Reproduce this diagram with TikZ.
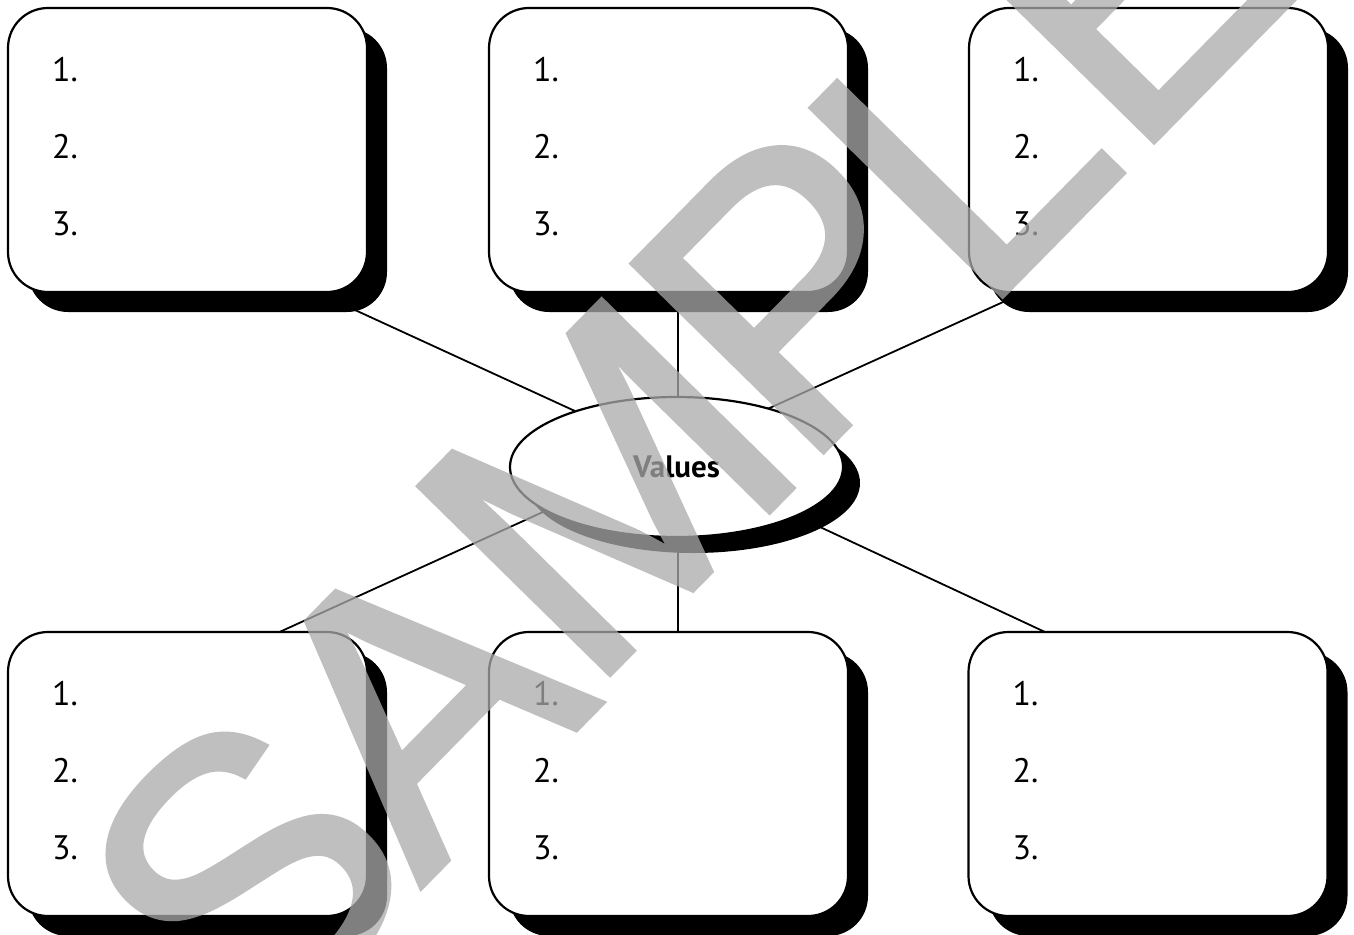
\documentclass[tikz,border=0pt]{standalone}
\usepackage{fontspec}
\setmainfont{PT Sans}
\newfontfamily\markfont[FakeBold=1.5]{Liberation Sans}
\usetikzlibrary{shapes.geometric,shadows,calc}
\definecolor{markgray}{RGB}{170,170,170}
\begin{document}
\begin{tikzpicture}[x=1pt,y=-1pt,
  card/.style={draw=black, line width=2.2pt, fill=white, rounded corners=40pt,
    minimum width=359pt, minimum height=284pt, inner sep=0pt,
    drop shadow={shadow xshift=20pt, shadow yshift=-20pt, fill=black, opacity=1}},
  hub/.style={ellipse, draw=black, line width=2.2pt, fill=white,
    minimum width=333pt, minimum height=140pt, inner sep=0pt,
    drop shadow={shadow xshift=17pt, shadow yshift=-16pt, fill=black, opacity=1}},
  link/.style={draw=black, line width=1.8pt},
  item/.style={anchor=base west, inner sep=0pt, font=\fontsize{34}{34}\selectfont},
  glyph/.style={anchor=base west, rotate=45.5, inner sep=0pt, text=markgray,
    font=\markfont\fontsize{389}{389}\selectfont}]

\useasboundingbox (0,0) rectangle (1354,934);
\fill[white] (0,0) rectangle (1354,934);

% line ends (hidden parts run under the shapes)
\coordinate (aTL) at (230,252.6);   \coordinate (bTL) at (620,431.7);
\coordinate (aTM) at (678,250);     \coordinate (bTM) at (678,467);
\coordinate (aTR) at (1100,258);    \coordinate (bTR) at (730,426);
\coordinate (aBL) at (240,650);     \coordinate (bBL) at (600,486);
\coordinate (aBM) at (678,700);     \coordinate (bBM) at (678,467);
\coordinate (aBR) at (1090,653);    \coordinate (bBR) at (760,499);

\foreach \p in {TL,TM,TR,BL,BM,BR}
  \draw[link] (a\p) -- (b\p);

% six cards with numbered lines
\foreach \n/\x/\y in {tl/187.5/150, tm/668.5/150, tr/1148.5/150,
                      bl/187.5/774, bm/668.5/774, br/1148/774} {
  \node[card] (\n) at (\x,\y) {};
  \node[item] (\n1) at ($(\n.north west)+(45,75)$) {1.};
  \node[item] (\n2) at ($(\n.north west)+(45,152)$) {2.};
  \node[item] (\n3) at ($(\n.north west)+(45,229)$) {3.};
}

% central ellipse
\node[hub, font=\bfseries\fontsize{31}{31}\selectfont] (val) at (676.5,467) {Values};

% watermark, one letter at a time along a 45.5 degree baseline
\begin{scope}[transparency group, opacity=0.75]
  \node[glyph] (wS) at (250,1061.2)   {S};
  \node[glyph] (wA) at (420.7,887.5)  {A};
  \node[glyph] (wM) at (587.6,696.6)  {M};
  \node[glyph] (wP) at (801,474)      {P};
  \node[glyph] (wL) at (980.1,318.3)  {L};
  \node[glyph] (wE) at (1131.7,164)   {E};
\end{scope}
\end{tikzpicture}
\end{document}
